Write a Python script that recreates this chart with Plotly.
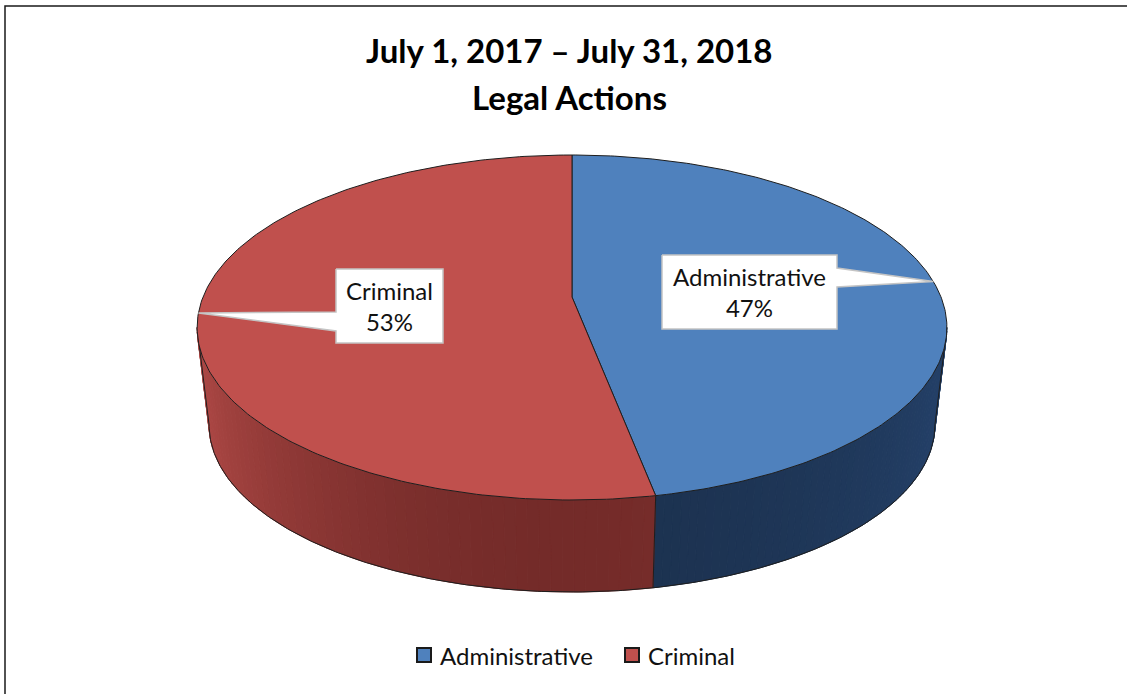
import numpy as np
import plotly.graph_objects as go

# ---- data ----
categories = ["Administrative", "Criminal"]
shares = [47, 53]                      # percent of legal actions
label_text = ["Administrative<br>47%", "Criminal<br>53%"]

# ---- styling ----
top_colors = ["#4F81BD", "#C0504D"]
wall_light = ["#24416A", "#B04946"]
wall_dark = ["#1C3250", "#742B29"]
edge = "#1E1E1E"
FONT = "Lato"

W, H = 1127, 694

# ---- perspective projection of a tilted disc (angles clockwise from 12 o'clock) ----
CX, CY = 572.0, 297.0
RX, RY = 369.0, 167.1
K = 0.1768          # perspective foreshortening
S = 0.968           # scale of the lower rim
DROP = 98.5         # vertical drop of the lower rim


def top_xy(theta):
    u, v = np.sin(theta), np.cos(theta)
    w = 1 + K * v
    return CX + RX * u / w, CY - RY * v / w


def bottom_xy(theta):
    x, y = top_xy(theta)
    return CX + S * (x - CX), CY + DROP + S * (y - CY)


def mix(c1, c2, t):
    a = [int(c1[i:i + 2], 16) for i in (1, 3, 5)]
    b = [int(c2[i:i + 2], 16) for i in (1, 3, 5)]
    return "#%02x%02x%02x" % tuple(int(round(a[j] + (b[j] - a[j]) * t)) for j in range(3))


total = float(sum(shares))
bounds = np.concatenate([[0.0], np.cumsum(shares)]) / total * 2 * np.pi
mids = (bounds[:-1] + bounds[1:]) / 2

# visible side wall lies between the two silhouette tangents
t_left = 2 * np.pi - np.arccos(-K)
t_right = np.arccos(-K)

fig = go.Figure()

# side wall, split into thin strips for shading
for i in range(len(shares)):
    a0 = max(bounds[i], t_right)
    a1 = min(bounds[i + 1], t_left)
    if a1 <= a0:
        continue
    n = 60
    edges_t = np.linspace(a0, a1, n + 1)
    for j in range(n):
        ta, tb = edges_t[j], edges_t[j + 1]
        mid = (ta + tb) / 2
        # darker toward the front of the cylinder
        shade = np.cos(mid - np.pi) ** 2
        col = mix(wall_light[i], wall_dark[i], shade)
        arc = np.linspace(ta, tb, 4)
        xt, yt = top_xy(arc)
        xb, yb = bottom_xy(arc[::-1])
        fig.add_trace(go.Scatter(
            x=np.concatenate([xt, xb, xt[:1]]), y=np.concatenate([yt, yb, yt[:1]]),
            mode="lines", fill="toself", fillcolor=col,
            line=dict(color=col, width=1), hoverinfo="skip", showlegend=False))

# wall outline: lower rim, silhouettes, and the seam between slices
arc = np.linspace(t_right, t_left, 300)
xb, yb = bottom_xy(arc)
fig.add_trace(go.Scatter(x=xb, y=yb, mode="lines", line=dict(color=edge, width=1),
                         hoverinfo="skip", showlegend=False))
for t in [t_right, t_left] + [b for b in bounds[1:-1] if t_right < b < t_left]:
    x0, y0 = top_xy(t)
    x1, y1 = bottom_xy(t)
    fig.add_trace(go.Scatter(x=[x0, x1], y=[y0, y1], mode="lines",
                             line=dict(color=edge, width=1),
                             hoverinfo="skip", showlegend=False))

# top face slices
for i in range(len(shares)):
    arc = np.linspace(bounds[i], bounds[i + 1], 240)
    xs, ys = top_xy(arc)
    fig.add_trace(go.Scatter(
        x=np.concatenate([[CX], xs, [CX]]), y=np.concatenate([[CY], ys, [CY]]),
        mode="lines", fill="toself", fillcolor=top_colors[i],
        line=dict(color=edge, width=1), hoverinfo="skip", showlegend=False))

# data label callouts: box with a wedge pointing at the slice's rim midpoint
boxes = [
    dict(x0=662, x1=837, y0=255, y1=329, side="right", b0=268, b1=287),
    dict(x0=336, x1=443, y0=269, y1=343, side="left", b0=312, b1=331),
]
for i, bx in enumerate(boxes):
    tx, ty = top_xy(mids[i])
    if bx["side"] == "right":
        px = [bx["x0"], bx["x1"], bx["x1"], tx, bx["x1"], bx["x1"], bx["x0"], bx["x0"]]
        py = [bx["y0"], bx["y0"], bx["b0"], ty, bx["b1"], bx["y1"], bx["y1"], bx["y0"]]
    else:
        px = [bx["x0"], bx["x1"], bx["x1"], bx["x0"], bx["x0"], tx, bx["x0"], bx["x0"]]
        py = [bx["y0"], bx["y0"], bx["y1"], bx["y1"], bx["b1"], ty, bx["b0"], bx["y0"]]
    fig.add_trace(go.Scatter(x=px, y=py, mode="lines", fill="toself", fillcolor="white",
                             line=dict(color="#C4C4C4", width=1.5),
                             hoverinfo="skip", showlegend=False))
    fig.add_annotation(x=(bx["x0"] + bx["x1"]) / 2, y=(bx["y0"] + bx["y1"]) / 2,
                       text=label_text[i], showarrow=False,
                       font=dict(family=FONT, size=24, color="#111111"))

# legend
legend_items = [(416, 438), (624, 646)]
for i, (sx, tx) in enumerate(legend_items):
    fig.add_shape(type="rect", x0=sx + 1, x1=sx + 15, y0=648, y1=662,
                  fillcolor=top_colors[i], line=dict(color="#1A1A1A", width=2))
    fig.add_annotation(x=tx, y=655, text=categories[i], showarrow=False,
                       xanchor="left", yanchor="middle",
                       font=dict(family=FONT, size=24, color="#111111"))

# title
fig.add_annotation(x=569, y=50, text="<b>July 1, 2017 – July 31, 2018</b>", showarrow=False,
                   font=dict(family=FONT, size=33, color="#000000"))
fig.add_annotation(x=569, y=97, text="<b>Legal Actions</b>", showarrow=False,
                   font=dict(family=FONT, size=33, color="#000000"))

# chart frame
fig.add_shape(type="rect", x0=5, x1=W + 10, y0=6, y1=H + 10,
              line=dict(color="#1A1A1A", width=1.5), fillcolor="rgba(0,0,0,0)")

fig.update_xaxes(range=[0, W], visible=False, fixedrange=True)
fig.update_yaxes(range=[H, 0], visible=False, fixedrange=True)
fig.update_layout(width=W, height=H, margin=dict(l=0, r=0, t=0, b=0),
                  paper_bgcolor="white", plot_bgcolor="white", showlegend=False)

fig.write_html("out.html")
